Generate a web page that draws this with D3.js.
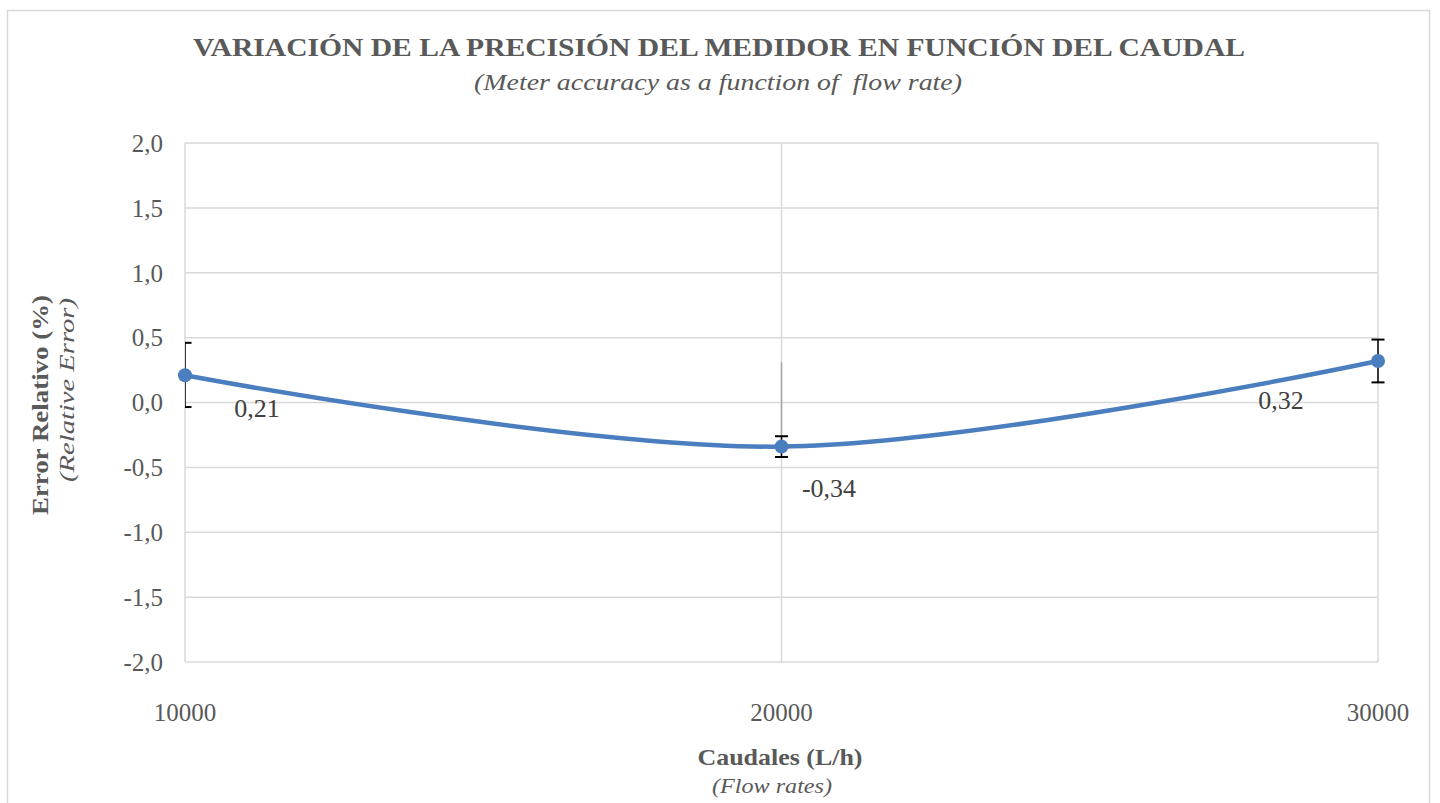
<!DOCTYPE html>
<html><head><meta charset="utf-8">
<script src="https://cdn.jsdelivr.net/npm/d3@7"></script>
<style>body{margin:0;background:#fff}svg{display:block}</style>
</head><body>
<svg id="c" width="1440" height="803"></svg>
<script>
const flows = [10000, 20000, 30000];
const errors = [0.21, -0.34, 0.32];
const errPlus = [0.25, 0.08, 0.165];
const errMinus = [0.245, 0.08, 0.165];
const greyBarTop = [null, 0.31, null];
const labels = ["0,21", "-0,34", "0,32"];
const yTicks = [-2, -1.5, -1, -0.5, 0, 0.5, 1, 1.5, 2];
const xTicks = [10000, 20000, 30000];

const svg = d3.select("#c");
const serif = "'Liberation Serif','Times New Roman',serif";
const grey = "#595959";
const grid = "#d9d9d9";

svg.append("rect").attr("x",7.5).attr("y",10.5).attr("width",1422).attr("height",800)
  .attr("fill","#fff").attr("stroke","#d9d9d9").attr("stroke-width",1.5);

const x = d3.scaleLinear().domain([10000,30000]).range([185,1378]);
const y = d3.scaleLinear().domain([-2,2]).range([662,143]);

svg.append("g").selectAll("line").data(yTicks).join("line")
  .attr("x1",x(10000)).attr("x2",x(30000)).attr("y1",d=>y(d)).attr("y2",d=>y(d))
  .attr("stroke",grid).attr("stroke-width",1.5);
svg.append("g").selectAll("line").data(xTicks).join("line")
  .attr("x1",d=>x(d)).attr("x2",d=>x(d)).attr("y1",y(2)).attr("y2",y(-2))
  .attr("stroke",grid).attr("stroke-width",1.5);

const fmt = d => d3.format(".1f")(d).replace(".",",").replace("−","-");
svg.append("g").selectAll("text").data(yTicks).join("text")
  .attr("x",163).attr("y",d=>y(d)).attr("dy","0.35em").attr("text-anchor","end")
  .attr("font-family",serif).attr("font-size",25).attr("fill",grey).text(fmt);
svg.append("g").selectAll("text").data(xTicks).join("text")
  .attr("x",d=>x(d)).attr("y",712).attr("dy","0.35em").attr("text-anchor","middle")
  .attr("font-family",serif).attr("font-size",25).attr("fill",grey).text(d=>d);

svg.append("clipPath").attr("id","pa").append("rect")
  .attr("x",x(10000)).attr("y",y(2)-20).attr("width",x(30000)-x(10000)+20).attr("height",y(-2)-y(2)+40);

const pts = flows.map((f,i)=>({f, e:errors[i], p:errPlus[i], m:errMinus[i], g:greyBarTop[i], l:labels[i]}));

svg.append("g").selectAll("line").data(pts.filter(d=>d.g!==null)).join("line")
  .attr("x1",d=>x(d.f)).attr("x2",d=>x(d.f)).attr("y1",d=>y(d.g)).attr("y2",d=>y(d.e))
  .attr("stroke","#a6a6a6").attr("stroke-width",1.5);

const eb = svg.append("g").attr("clip-path","url(#pa)");
pts.forEach(d=>{
  const cx = x(d.f);
  const cw = 6.5;
  eb.append("line").attr("x1",cx).attr("x2",cx).attr("y1",y(d.e+d.p)).attr("y2",y(d.e-d.m))
    .attr("stroke","#000").attr("stroke-width",1.5);
  [d.e+d.p, d.e-d.m].forEach(v=>{
    eb.append("line").attr("x1",cx-cw).attr("x2",cx+cw).attr("y1",y(v)).attr("y2",y(v))
      .attr("stroke","#000").attr("stroke-width",2);
  });
});

const line = d3.line().x(d=>x(d.f)).y(d=>y(d.e)).curve(d3.curveCardinal.tension(0));
svg.append("path").datum(pts).attr("d",line).attr("fill","none")
  .attr("stroke","#4A7EBF").attr("stroke-width",4.5).attr("stroke-linecap","round");

svg.append("g").selectAll("circle").data(pts).join("circle")
  .attr("cx",d=>x(d.f)).attr("cy",d=>y(d.e)).attr("r",7).attr("fill","#4A7EBF");

const lblPos = [[257,408],[829,488],[1281,400]];
svg.append("g").selectAll("text").data(pts).join("text")
  .attr("x",(d,i)=>lblPos[i][0]).attr("y",(d,i)=>lblPos[i][1]).attr("dy","0.35em")
  .attr("text-anchor","middle").attr("font-family",serif).attr("font-size",26).attr("fill","#404040")
  .text(d=>d.l);

svg.append("text").attr("x",719).attr("y",47).attr("dy","0.35em").attr("text-anchor","middle")
  .attr("font-family",serif).attr("font-weight","bold").attr("font-size",26).attr("fill",grey)
  .attr("textLength",1052).attr("lengthAdjust","spacingAndGlyphs")
  .text("VARIACIÓN DE LA PRECISIÓN DEL MEDIDOR EN FUNCIÓN DEL CAUDAL");
svg.append("text").attr("x",718).attr("y",82).attr("dy","0.35em").attr("text-anchor","middle")
  .attr("font-family",serif).attr("font-style","italic").attr("font-size",24).attr("fill",grey)
  .attr("xml:space","preserve").attr("textLength",488).attr("lengthAdjust","spacingAndGlyphs")
  .text("(Meter accuracy as a function of\u00a0 flow rate)");

svg.append("text").attr("x",780).attr("y",757).attr("dy","0.35em").attr("text-anchor","middle")
  .attr("font-family",serif).attr("font-weight","bold").attr("font-size",23).attr("fill",grey)
  .attr("textLength",165).attr("lengthAdjust","spacingAndGlyphs")
  .text("Caudales (L/h)");
svg.append("text").attr("x",772).attr("y",785).attr("dy","0.35em").attr("text-anchor","middle")
  .attr("font-family",serif).attr("font-style","italic").attr("font-size",22).attr("fill",grey)
  .attr("textLength",120).attr("lengthAdjust","spacingAndGlyphs")
  .text("(Flow rates)");

svg.append("text").attr("transform","translate(40,405) rotate(-90)").attr("dy","0.35em")
  .attr("text-anchor","middle").attr("font-family",serif).attr("font-weight","bold")
  .attr("font-size",23).attr("fill",grey)
  .attr("textLength",220).attr("lengthAdjust","spacingAndGlyphs").text("Error Relativo (%)");
svg.append("text").attr("transform","translate(66,390) rotate(-90)").attr("dy","0.35em")
  .attr("text-anchor","middle").attr("font-family",serif).attr("font-style","italic")
  .attr("font-size",22).attr("fill",grey)
  .attr("textLength",184).attr("lengthAdjust","spacingAndGlyphs").text("(Relative Error)");
</script>
</body></html>
